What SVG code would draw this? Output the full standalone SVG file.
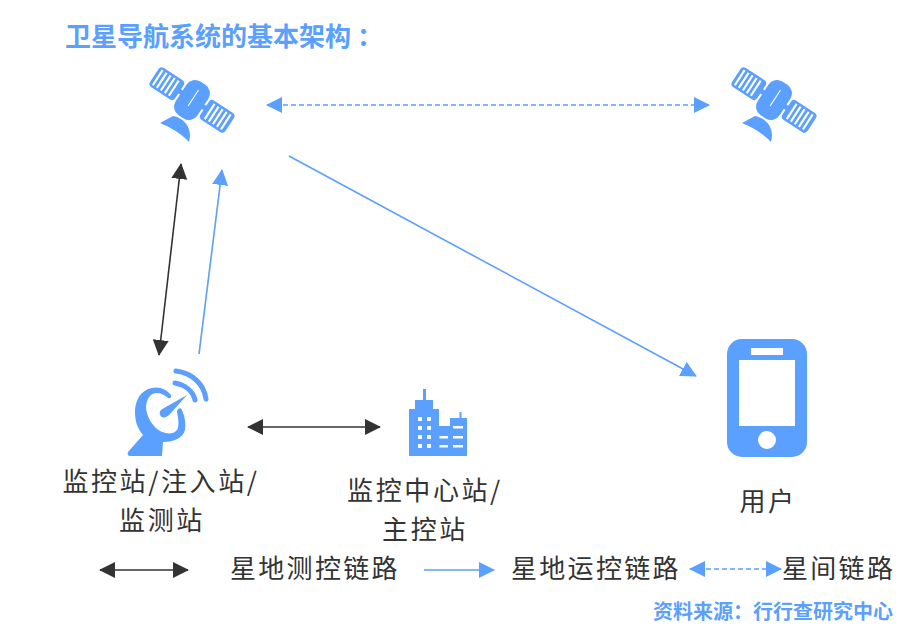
<svg xmlns="http://www.w3.org/2000/svg" width="916" height="628" viewBox="0 0 916 628">
<style>
text{font-family:"Noto Sans CJK SC","Noto Sans",sans-serif}
.lbl{font-size:26px;fill:#333;letter-spacing:2.600px;text-anchor:middle}
.leg{font-size:26px;fill:#333;letter-spacing:2.300px}
.ttl{font-size:26px;font-weight:700;fill:#5b9fff}
.src{font-size:20px;font-weight:700;fill:#5b9fff}
.ic{fill:#5b9fff}
.wh{fill:#fff}
.k{stroke:#333;stroke-width:1.6;fill:none}
.b{stroke:#5b9fff;stroke-width:1.6;fill:none}
.d{stroke:#5b9fff;stroke-width:1.4;fill:none;stroke-dasharray:5 3}
</style>
<defs>
<marker id="ak" viewBox="0 0 16 16" refX="15" refY="8" markerWidth="16" markerHeight="16" markerUnits="userSpaceOnUse" orient="auto-start-reverse"><path d="M0 0L16 8L0 16Z" fill="#333"/></marker>
<marker id="ab" viewBox="0 0 16 16" refX="15" refY="8" markerWidth="16" markerHeight="16" markerUnits="userSpaceOnUse" orient="auto-start-reverse"><path d="M0 0L16 8L0 16Z" fill="#5b9fff"/></marker>
<g id="sat">
<g transform="rotate(33 192 100)">
<rect x="147" y="88.500" width="30" height="23" rx="4" class="ic"/>
<rect x="207" y="88.500" width="30" height="23" rx="4" class="ic"/>
<rect x="176" y="97" width="32" height="5" class="ic"/>
<rect x="179" y="80" width="26" height="40" rx="10" class="ic"/>
<rect x="191.500" y="88" width="1" height="19" class="wh"/>
<g class="wh">
<rect x="150" y="91" width="2.200" height="18"/><rect x="154.800" y="91" width="2.200" height="18"/><rect x="159.600" y="91" width="2.200" height="18"/><rect x="164.400" y="91" width="2.200" height="18"/><rect x="169.200" y="91" width="2.200" height="18"/>
<rect x="212" y="91" width="2.200" height="18"/><rect x="216.800" y="91" width="2.200" height="18"/><rect x="221.600" y="91" width="2.200" height="18"/><rect x="226.400" y="91" width="2.200" height="18"/><rect x="231.200" y="91" width="2.200" height="18"/>
</g>
</g>
<path class="ic" d="M160 123L173 116C184 118 193 128 189 142C182 134 170 127 160 123Z"/>
</g>
</defs>
<text class="ttl" x="65" y="46">卫星导航系统的基本架构<tspan dx="6">：</tspan></text>
<g id="connectors">
<path class="k" d="M181 164L159 355" marker-start="url(#ak)" marker-end="url(#ak)"/>
<path class="b" d="M199 354L222 170" marker-end="url(#ab)"/>
<path class="d" d="M267 105H709" marker-start="url(#ab)" marker-end="url(#ab)"/>
<path class="b" d="M289 156L696 376" marker-end="url(#ab)"/>
<path class="k" d="M248 427H380" marker-start="url(#ak)" marker-end="url(#ak)"/>
</g>
<g id="satellite-1"><use href="#sat"/></g>
<g id="satellite-2"><use href="#sat" x="582"/></g>
<g id="ground-station">
<path class="ic" d="M128 452L143 435C137 428 135 420 135 412C135 400 141 390 152 388C160 386 167 390 171 395C172 397 170 399 168 398C165 395 161 393 157 393C150 393 147 399 146 406C146 416 152 426 160 431C168 435 176 434 178 428C179 422 178 417 177 412C177 408 181 407 182 410C185 417 186 424 185 430C183 438 174 442 163 442L162 456H130C128 456 127 454 128 452Z"/>
<path class="ic" d="M187 395L170 414C166 419 160 418 160 414C159 411 161 410 164 408Z"/>
<path d="M175 383C185 385 193 391 195 400M176 371C192 373 204 384 206 399" fill="none" stroke="#5b9fff" stroke-width="5" stroke-linecap="round"/>
<text class="lbl" x="161" y="491">监控站/注入站/</text>
<text class="lbl" x="162" y="530">监测站</text>
</g>
<g id="control-center">
<path class="ic" d="M423 389H426V400H433V409H439V426H450V418H459.500V412H461.500V418H467V456H409V409H415V400H423Z"/>
<g class="wh">
<rect x="418" y="417" width="4" height="4"/><rect x="427" y="417" width="4" height="4"/>
<rect x="418" y="426" width="4" height="4"/><rect x="427" y="426" width="4" height="4"/>
<rect x="418" y="435" width="4" height="4"/><rect x="427" y="435" width="4" height="4"/>
<rect x="418" y="444" width="4" height="4"/><rect x="427" y="444" width="4" height="4"/>
<rect x="439.500" y="436" width="8.500" height="2.500"/><rect x="439.500" y="445" width="8.500" height="2.500"/>
<rect x="453" y="426" width="10" height="2.500"/><rect x="453" y="436" width="10" height="2.500"/><rect x="453" y="445" width="10" height="2.500"/>
</g>
<text class="lbl" x="425" y="500">监控中心站/</text>
<text class="lbl" x="425" y="539">主控站</text>
</g>
<g id="user">
<rect class="ic" x="727" y="339" width="80" height="118" rx="15"/>
<rect class="wh" x="751" y="348" width="32" height="7"/>
<rect class="wh" x="739" y="360" width="56" height="66"/>
<circle class="wh" cx="767" cy="440" r="9"/>
<text class="lbl" x="768" y="511">用户</text>
</g>
<g id="legend">
<path class="k" d="M100 570H188" marker-start="url(#ak)" marker-end="url(#ak)"/>
<text class="leg" x="230" y="578">星地测控链路</text>
<path class="b" d="M424 570H494" marker-end="url(#ab)"/>
<text class="leg" x="511" y="578">星地运控链路</text>
<path class="d" d="M690 569H781" marker-start="url(#ab)" marker-end="url(#ab)"/>
<text class="leg" x="782" y="578">星间链路</text>
</g>
<text class="src" x="653" y="619">资料来源：行行查研究中心</text>
</svg>
